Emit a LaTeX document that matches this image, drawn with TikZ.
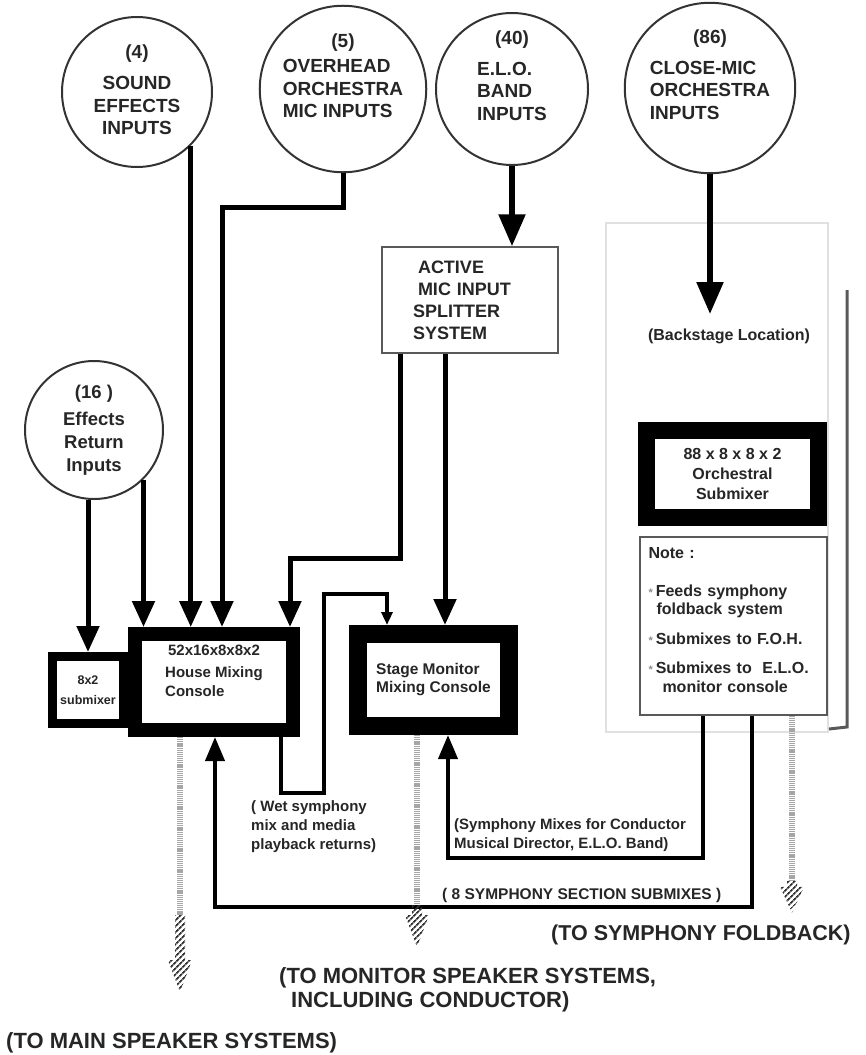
\documentclass[tikz,border=0pt]{standalone}
\usepackage{fontspec}
\setmainfont{Liberation Sans}
\usetikzlibrary{arrows.meta,patterns.meta,positioning}

\newcommand{\bubtext}[4]{\begin{tabular}{@{}#1@{}}\multicolumn{1}{@{}c@{}}{#2}\\[#3]#4\end{tabular}}
\newcommand{\nstar}{{\color{black!45}\fontsize{11}{11}\selectfont*}\hspace{3pt}}
\newcommand{\outarrow}[3]{%
  \fill[pattern={Lines[angle=45,distance=4pt,line width=1.8pt]},pattern color=black!80]
    ([xshift=-5pt]#1) -- ++(0,#2) -- ++(-7,0) -- ++(12,#3) -- ++(12,-#3) -- ++(-7,0) -- ++(0,-#2) -- cycle;}

\begin{document}
\begin{tikzpicture}[x=1pt,y=-1pt,
  bub/.style={circle,draw=black!80,line width=2pt,minimum size=150pt,inner sep=0pt,text=black!85,font=\fontsize{19}{22.5}\selectfont\bfseries},
  console/.style={draw=black,fill=white,inner sep=0pt,text=black!85},
  plain/.style={draw=black!65,line width=1.5pt,fill=white,inner sep=0pt,text=black!85},
  feed/.style={line width=5pt,-{Triangle[width=22pt,length=26pt]}},
  bigfeed/.style={line width=5.5pt,-{Triangle[width=26pt,length=32pt]}},
  ret/.style={line width=4pt,-{Triangle[width=19pt,length=24pt]}},
  tape/.style={line width=5.5pt,draw=black!35,dash pattern=on 1.2pt off 0.9pt},
  lbl/.style={inner sep=0pt,align=left,text=black!85,font=\fontsize{15}{19}\selectfont\bfseries},
  big/.style={inner sep=0pt,align=left,text=black!85,font=\fontsize{22}{24}\selectfont\bfseries}]
\useasboundingbox (0,0) rectangle (865,1055);

\draw[black!12,line width=2pt] (606,223) rectangle (828,732);
\draw[black!65,line width=3pt] (847,290) -- (847,727) -- (829,729);

\node[bub] (sfx) at (137,92) {\bubtext{c}{(4)}{9pt}{SOUND\\EFFECTS\\INPUTS}};
\node[bub] (ovh) at (343,89) {\bubtext{l}{(5)}{3pt}{OVERHEAD\\ORCHESTRA\\MIC INPUTS\\\mbox{}}};
\node[bub,minimum size=152pt] (elo) at (512,89) {\bubtext{l}{(40)}{8pt}{E.L.O.\\BAND\\INPUTS\\\mbox{}}};
\node[bub,minimum size=154pt] (close) at (710,88) {\bubtext{l}{(86)}{8pt}{CLOSE-MIC\\ORCHESTRA\\INPUTS\\\mbox{}}};
\node[bub,minimum size=138pt,font=\fontsize{18.5}{23}\selectfont\bfseries] (fxret) at (94,430) {\bubtext{c}{(16 )}{4pt}{Effects\\Return\\Inputs}};

\node[plain,minimum width=176pt,minimum height=106pt,text width=114pt,align=left,font=\fontsize{18}{22}\selectfont\bfseries] (split) at (470,300) {\hspace*{5pt}ACTIVE\\\hspace*{5pt}MIC INPUT\\SPLITTER\\SYSTEM};

\node[lbl,font=\fontsize{16}{19}\selectfont\bfseries] (backstage) at (729,336) {(Backstage Location)};
\node[console,line width=17pt,minimum width=172pt,minimum height=87pt,align=center,font=\fontsize{16}{20}\selectfont\bfseries] (orch) at (732.5,474) {88 x 8 x 8 x 2\\Orchestral\\Submixer};
\node[plain,minimum width=187pt,minimum height=178pt,text width=170pt,align=left,font=\fontsize{16}{18.5}\selectfont\bfseries] (note) at (733.5,626) {Note :\\[19pt]\nstar Feeds symphony\\\hspace*{8pt}foldback system\\[11pt]\nstar Submixes to F.O.H.\\[11pt]\nstar Submixes to\ \ E.L.O.\\\hspace*{14pt}monitor console\\[-6pt]\mbox{}};

\node[console,line width=9pt,minimum width=71pt,minimum height=67pt,align=center,font=\fontsize{12.5}{20}\selectfont\bfseries] (sub8) at (88,690) {8x2\\submixer};
\node[console,line width=14pt,minimum width=158pt,minimum height=96pt,font=\fontsize{15}{19}\selectfont\bfseries] (house) at (214,682) {\bubtext{l}{52x16x8x8x2}{3pt}{House Mixing\\Console\\\mbox{}}};
\node[console,line width=18pt,minimum width=151pt,minimum height=92pt,align=left,font=\fontsize{15.5}{18}\selectfont\bfseries] (stage) at (433.5,680) {Stage Monitor\\Mixing Console};

\draw[feed] (sfx.-45) -- (sfx.-45 |- house.north);
\coordinate (ovhbend) at (222,207);
\draw[feed] (ovh.south) |- (ovhbend) -- (ovhbend |- house.north);
\draw[feed] (fxret.-45) -- (fxret.-45 |- house.north);
\coordinate (fxa) at ([xshift=-6pt]fxret.south);
\draw[feed] (fxa) -- (fxa |- sub8.north);

\draw[bigfeed] (elo.south) -- (elo.south |- split.north);
\coordinate (closetip) at (710,314);
\draw[bigfeed] (close) -- (closetip);

\coordinate (splita) at ([xshift=-70pt]split.south);
\coordinate (splitbend) at (290,558);
\draw[feed] (splita) |- (splitbend) -- (splitbend |- house.north);
\coordinate (splitb) at ([xshift=-25pt]split.south);
\draw[feed] (splitb) -- (splitb |- stage.north);

\coordinate (wetout) at ([xshift=67pt]house.south);
\coordinate (wetlow) at (324,793);
\coordinate (wethigh) at (324,594);
\coordinate (wetin) at ([xshift=-46.5pt]stage.north);
\draw[ret,-{Triangle[width=11pt,length=13pt]}] (wetout) |- (wetlow) -- (wethigh) -| (wetin);

\coordinate (condout) at ([xshift=-30.5pt]note.south);
\coordinate (condbend) at (448,858);
\draw[ret] (condout) |- (condbend) -- (condbend |- stage.south);
\coordinate (secout) at ([xshift=18.5pt]note.south);
\coordinate (secbend) at (215,907);
\draw[ret] (secout) |- (secbend) -- (secbend |- house.south);

\coordinate (mainout) at ([xshift=-34pt]house.south);
\draw[tape] (mainout) -- ++(0,178) coordinate (mainhatch);
\outarrow{mainhatch}{45}{32}
\coordinate (monout) at ([xshift=-16.5pt]stage.south);
\draw[tape] (monout) -- ++(0,170) coordinate (monhatch);
\outarrow{monhatch}{10}{32}
\coordinate (foldout) at ([xshift=58.5pt]note.south);
\draw[tape] (foldout) -- ++(0,165) coordinate (foldhatch);
\outarrow{foldhatch}{6}{26}

\node[lbl,anchor=west] (wetlbl) at (251,827) {( Wet symphony\\mix and media\\playback returns)};
\node[lbl,anchor=west] (condlbl) at (454,835) {(Symphony Mixes for Conductor\\Musical Director, E.L.O. Band)};
\node[lbl,anchor=west,font=\fontsize{15.5}{18}\selectfont\bfseries] (seclbl) at (442,895) {( 8 SYMPHONY SECTION SUBMIXES )};

\node[big,anchor=west,font=\fontsize{21.5}{24}\selectfont\bfseries] (foldlbl) at (551,935) {(TO SYMPHONY FOLDBACK)};
\node[big,anchor=west] (monlbl) at (279,990) {(TO MONITOR SPEAKER SYSTEMS,\\\hspace*{12pt}INCLUDING CONDUCTOR)};
\node[big,anchor=west] (mainlbl) at (6,1043) {(TO MAIN SPEAKER SYSTEMS)};
\end{tikzpicture}
\end{document}
